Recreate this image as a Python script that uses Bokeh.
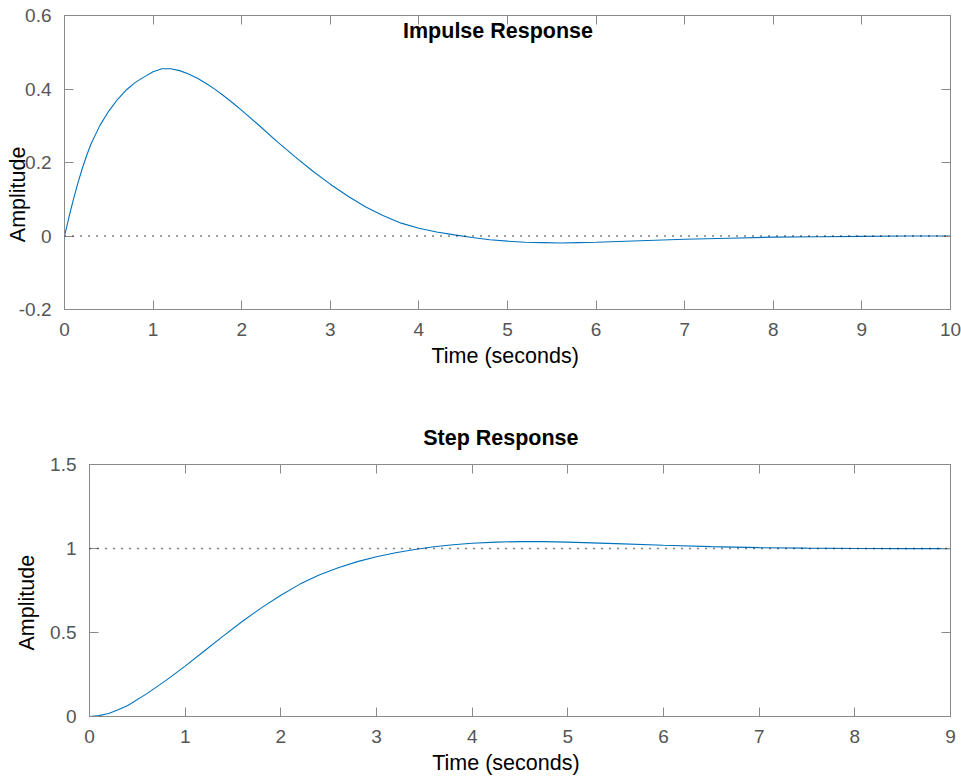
from bokeh.plotting import figure
from bokeh.models import Label, Span, FixedTicker, LinearAxis, Range1d, Title
from bokeh.embed import file_html
from bokeh.resources import INLINE

# ---------------- data ----------------
imp_t = [0.0, 0.05, 0.1, 0.15, 0.2, 0.25, 0.3, 0.4, 0.5, 0.6, 0.7, 0.8, 0.9, 1.0, 1.1,
         1.2, 1.3, 1.4, 1.5, 1.6, 1.7, 1.8, 1.9, 2.0, 2.2, 2.4, 2.6, 2.8, 3.0, 3.2,
         3.4, 3.6, 3.8, 4.0, 4.2, 4.4, 4.6, 4.8, 5.0, 5.2, 5.4, 5.6, 5.8, 6.0, 6.5,
         7.0, 7.5, 8.0, 8.5, 9.0, 9.5, 10.0]
imp_v = [0.000, 0.051, 0.099, 0.143, 0.183, 0.219, 0.251, 0.301, 0.340, 0.372, 0.398,
         0.418, 0.433, 0.447, 0.455, 0.455, 0.450, 0.441, 0.429, 0.415, 0.399, 0.381,
         0.362, 0.342, 0.300, 0.257, 0.216, 0.177, 0.141, 0.108, 0.079, 0.055, 0.035,
         0.021, 0.011, 0.003, -0.004, -0.010, -0.014, -0.017, -0.018, -0.019, -0.018,
         -0.017, -0.013, -0.009, -0.006, -0.003, -0.002, -0.001, 0.000, 0.000]

step_t = [0.0, 0.1, 0.2, 0.3, 0.4, 0.6, 0.8, 1.0, 1.2, 1.4, 1.6, 1.8, 2.0, 2.2, 2.4,
          2.6, 2.8, 3.0, 3.2, 3.4, 3.6, 3.8, 4.0, 4.25, 4.5, 4.75, 5.0, 5.5, 6.0, 6.5,
          7.0, 7.5, 8.0, 8.5, 9.0]
step_v = [0.000, 0.005, 0.018, 0.040, 0.066, 0.136, 0.215, 0.300, 0.390, 0.480, 0.567,
          0.648, 0.722, 0.788, 0.842, 0.886, 0.922, 0.951, 0.975, 0.994, 1.010, 1.022,
          1.031, 1.038, 1.041, 1.041, 1.038, 1.029, 1.019, 1.011, 1.005, 1.002, 1.000,
          0.999, 0.999]

imp_xticks = [0, 1, 2, 3, 4, 5, 6, 7, 8, 9, 10]
imp_xlabels = ["0", "1", "2", "3", "4", "5", "6", "7", "8", "9", "10"]
imp_yticks = [-0.2, 0, 0.2, 0.4, 0.6]
imp_ylabels = ["-0.2", "0", "0.2", "0.4", "0.6"]

step_xticks = [0, 1, 2, 3, 4, 5, 6, 7, 8, 9]
step_xlabels = ["0", "1", "2", "3", "4", "5", "6", "7", "8", "9"]
step_yticks = [0, 0.5, 1, 1.5]
step_ylabels = ["0", "0.5", "1", "1.5"]

imp_title = "Impulse Response"
step_title = "Step Response"
xlabel = "Time (seconds)"
ylabel = "Amplitude"

# ---------------- styling ----------------
FONT = "Liberation Sans"
LINE_C = "#0072BD"
AX_C = "#8a8a8a"
TICK_TXT_C = "#555555"
TICK_FS = "19px"
LABEL_FS = "21.5px"


def style_fig(p, xticks, xlabels, yticks, ylabels):
    p.grid.visible = False
    p.outline_line_color = AX_C
    p.outline_line_width = 1
    p.background_fill_color = "white"
    p.border_fill_color = "white"
    for ax, ticks, labels in ((p.xaxis[0], xticks, xlabels), (p.yaxis[0], yticks, ylabels)):
        ax.ticker = FixedTicker(ticks=ticks)
        ax.major_label_overrides = {t: l for t, l in zip(ticks, labels)}
        ax.major_tick_in = 9
        ax.major_tick_out = 0
        ax.minor_tick_line_color = None
        ax.axis_line_color = AX_C
        ax.major_tick_line_color = AX_C
        ax.major_label_text_font = FONT
        ax.major_label_text_font_size = TICK_FS
        ax.major_label_text_color = TICK_TXT_C
    p.xaxis[0].major_label_standoff = 13
    p.yaxis[0].major_label_standoff = 13
    for loc, ticks in (("above", xticks), ("right", yticks)):
        ax = LinearAxis(ticker=FixedTicker(ticks=ticks),
                        major_label_overrides={t: "" for t in ticks},
                        major_label_text_font_size="1px",
                        major_label_standoff=0,
                        major_tick_in=9, major_tick_out=0,
                        minor_tick_line_color=None,
                        axis_line_color=AX_C, major_tick_line_color=AX_C)
        p.add_layout(ax, loc)


def side_title(p, text, loc, offset, standoff, bold=False):
    p.add_layout(Title(text=text, align="left", offset=offset, standoff=standoff,
                       vertical_align="bottom",
                       text_font=FONT, text_font_size=LABEL_FS,
                       text_font_style="bold" if bold else "normal",
                       text_color="black"), loc)


# ---------------- top: impulse response ----------------
p1 = figure(width=961, height=392, x_range=Range1d(0, 10), y_range=Range1d(-0.2, 0.6),
            output_backend="svg", toolbar_location=None,
            min_border_left=64, min_border_right=11, min_border_top=15, min_border_bottom=83)
style_fig(p1, imp_xticks, imp_xlabels, imp_yticks, imp_ylabels)
p1.add_layout(Span(location=0, dimension="width", line_color="#000000",
                   line_width=1.5, line_dash="1 7"))
p1.line(imp_t, imp_v, line_color=LINE_C, line_width=1.1)
p1.add_layout(Label(x=4.893, y=0.558, text=imp_title, text_font=FONT,
                    text_font_size=LABEL_FS, text_font_style="bold",
                    text_color="black", text_align="center", text_baseline="alphabetic"))
side_title(p1, ylabel, "left", 67.3, -28)
side_title(p1, xlabel, "below", 367, 7)

# ---------------- bottom: step response ----------------
p2 = figure(width=961, height=392, x_range=Range1d(0, 9), y_range=Range1d(0, 1.5),
            output_backend="svg", toolbar_location=None,
            min_border_left=89, min_border_right=11, min_border_top=72, min_border_bottom=68)
style_fig(p2, step_xticks, step_xlabels, step_yticks, step_ylabels)
p2.add_layout(Span(location=1, dimension="width", line_color="#000000",
                   line_width=1.5, line_dash="1 7"))
p2.line(step_t, step_v, line_color=LINE_C, line_width=1.1)
side_title(p2, step_title, "above", 333.7, 30, bold=True)
side_title(p2, ylabel, "left", 66, 18)
side_title(p2, xlabel, "below", 342.7, 7)

open("out.html", "w").write(file_html([p1, p2], INLINE))
